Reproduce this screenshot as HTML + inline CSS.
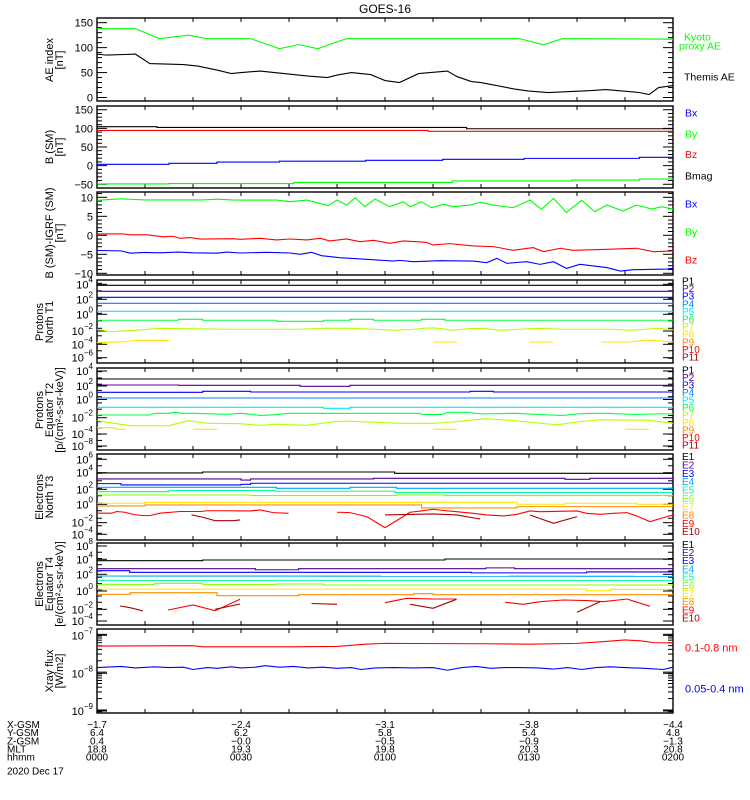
<!DOCTYPE html>
<html><head><meta charset="utf-8">
<style>
html,body{margin:0;padding:0;background:#fff;}
svg{display:block;font-family:"Liberation Sans",sans-serif;}
</style></head>
<body>
<svg id="chart" width="750" height="800" viewBox="0 0 750 800" xmlns="http://www.w3.org/2000/svg">
<text x="385" y="13" font-size="12" text-anchor="middle">GOES-16</text>
</svg>
<script>
// ---- data (time in minutes from 0000 UT, values) ----
const aeKyotoT=[0,8,13,19,23,30,32,38,42,46,52,88,93,97,120];
const aeKyotoV=[138,138,118,125,118,118,118,98,106,98,118,118,106,118,117];
const aeThemisT=[0,2,8,11,18,21,25,28,30,34,38,44,48,50,53,57,60,63,67,73,75,78,80,87,90,94,103,106,113,115,117,120];
const aeThemisV=[87,85,87,68,66,63,55,48,50,53,49,43,40,45,50,46,34,30,48,53,42,32,30,17,13,10,14,16,10,6,20,24];

const bmagT=[0,12.5,12.5,77,77,120];
const bmagV=[104.5,104.5,102.6,102.6,99,99];
const bzT=[0,69,69,120];
const bzV=[94.5,94.5,92,92];
const bxT=[0,15,15,25,25,38,38,56,56,72,72,89,89,113,113,120];
const bxV=[3.5,3.5,6.2,6.2,9.7,9.7,12,12,14.2,14.2,16.9,16.9,19.5,19.5,22.2,22.2];
const byT=[0,15,15,41,41,74,74,99,99,113,113,120];
const byV=[-49,-49,-48,-48,-45,-45,-41,-41,-38.6,-38.6,-36,-36];

const dByT=[0,5,10,22,25,28,29.8,37.4,40.2,43.7,45.8,48.2,50,52,53.8,55.8,57.9,61,63.8,65.2,67.6,69.7,72.1,74.2,77.7,79.8,82.6,86.7,90.2,92.6,95.1,97.8,101,103.7,106.2,109.6,112.4,115.6,117.6,120];
const dByV=[9.2,9.6,9.3,9.3,9.5,9.3,9.29,9.29,8.85,9.29,8.58,7.79,9.29,7.97,9.9,7.53,9.55,7.53,8.85,7.53,8.85,7.27,8.15,7.53,7.97,8.68,7.97,7.27,9.29,6.84,9.73,6.05,9.2,6.2,7.97,6.4,7.97,6.9,7.53,6.9];
const dBzT=[0,5.5,7,10.4,13.8,15.9,17.3,19.4,21.5,28.4,29.8,34,37.4,40.2,43.7,46.5,48.5,52,54.8,57.6,61,63.8,68.6,70,73.5,78.4,82.6,86.7,90.9,93,96.5,99.2,106.2,112.4,115.9,120];
const dBzV=[0.35,0.35,0.13,0.13,-0.4,-0.25,-0.8,-0.6,-1.0,-0.9,-1.05,-0.79,-1.23,-0.97,-1.23,-0.79,-1.49,-0.97,-1.67,-1.32,-2.1,-1.49,-1.84,-2.54,-2.19,-2.8,-2.98,-3.94,-3.24,-4.3,-3.41,-3.94,-3.68,-3.41,-4.3,-4.12];
const dBxT=[0,5,7,10,13,17,20,25,27,29.8,35.3,40.2,42.3,44.7,46.8,50.6,56.2,61.7,63.1,65.9,71.5,78.4,81.2,83.3,85.4,89.5,92.3,95.1,97.8,100.6,106.2,109,111.8,118.7,120];
const dBxV=[-4.0,-4.1,-4.7,-4.5,-4.6,-4.4,-4.6,-4.7,-4.4,-4.66,-4.48,-4.66,-5.0,-4.48,-5.36,-5.89,-6.33,-6.77,-6.6,-6.95,-6.68,-6.77,-7.2,-6.06,-7.38,-6.95,-7.65,-6.95,-8.7,-7.65,-8.5,-9.4,-9.05,-8.88,-8.7];

// protons north T1 (log10 flux)
const flatT=[0,120];
const pn1V=[3.73,3.73];
const pn2V=[2.93,2.93];
const pn3V=[2.13,2.13];
const pn4V=[1.33,1.33];
const pn5V=[0.27,0.27];
const pn6T=[0,17,17,22,22,37.4,37.4,47.2,47.2,52.7,52.7,57.6,57.6,67.6,67.6,72.5,72.5,120];
const pn6V=[-0.93,-0.93,-0.8,-0.8,-0.93,-0.93,-1.07,-1.07,-0.93,-0.93,-0.8,-0.8,-0.93,-0.93,-0.8,-0.8,-0.93,-0.93];
const pn7T=[0,3,8,13,28,42,47,53,58,62,66,68,70,72,74,76,78,81,84,88,92,97,107,111,114,117,120];
const pn7V=[-2.13,-2.45,-2.27,-2.0,-2.13,-2.13,-2.0,-2.0,-2.13,-2.27,-2.13,-2.0,-1.95,-2.05,-2.27,-2.13,-2.0,-2.05,-2.27,-2.13,-2.0,-2.13,-2.13,-2.27,-2.13,-2.0,-2.2];
const pn8T=[0,5.9,8.3,15,null,70,75,null,90,95,null,105,111,114,116,120];
const pn8V=[-3.92,-3.79,-3.6,-3.6,null,-3.83,-3.83,null,-3.83,-3.83,null,-3.83,-3.83,-3.6,-3.6,-3.83];

// protons equator T2
const pe1V=[2.83,2.83];
const pe2T=[0,17,17,42.3,42.3,52.7,52.7,120];
const pe2V=[1.87,1.87,1.82,1.82,1.66,1.66,1.82,1.82];
const pe3T=[0,22,22,32,32,77.7,77.7,82.6,82.6,120];
const pe3V=[0.7,0.7,0.86,0.86,0.75,0.75,0.86,0.86,0.75,0.75];
const pe4V=[-0.21,-0.21];
const pe5T=[0,47.2,47.2,52.7,52.7,120];
const pe5V=[-1.7,-1.7,-1.86,-1.86,-1.7,-1.7];
const pe6T=[0,11,12,15,16,18,20,27,30,32,34,37,40,42,67,68,72,73,77,80,87,92,97,100,104,106,112,117,120];
const pe6V=[-2.93,-2.93,-2.66,-2.66,-2.5,-2.66,-2.66,-2.82,-2.66,-2.8,-3.0,-2.9,-2.66,-2.66,-2.66,-2.85,-2.85,-2.5,-2.5,-2.75,-2.66,-2.85,-3.0,-2.75,-2.66,-2.66,-2.85,-2.75,-2.75];
const pe7T=[0,7,15,19,23,29.8,34,37.4,43.7,50,53,63,68,70,74,81,87,94,96,100,105,115,120];
const pe7V=[-3.84,-4.64,-4.64,-3.84,-4.26,-4.32,-4.58,-4.4,-4.58,-3.94,-3.94,-4.26,-4.26,-4.26,-4.05,-3.52,-3.84,-4.37,-4.48,-4.05,-3.68,-3.78,-4.26];
const pe8T=[0,4,4,6,null,20,25,null,70,75,null,110,115];
const pe8V=[-4.96,-4.96,-5.22,-5.22,null,-5.22,-5.22,null,-5.22,-5.22,null,-5.22,-5.22];

// electrons north T3
const en1T=[0,22,22,62,62,120];
const en1V=[4.05,4.05,4.17,4.17,4.0,4.0];
const en2T=[0,30,30,32,32,57.6,57.6,97.5,97.5,102.7,102.7,120];
const en2V=[3.24,3.24,3.1,3.1,3.24,3.24,3.33,3.33,3.2,3.2,3.33,3.33];
const en3T=[0,5,5,30,30,32,32,120];
const en3V=[2.62,2.62,2.44,2.44,2.53,2.53,2.67,2.67];
const en4T=[0,37.4,37.4,52.7,52.7,62.4,62.4,120];
const en4V=[2.13,2.13,2.0,2.0,2.13,2.13,2.0,2.0];
const en5T=[0,15,15,37,37,62,62,120];
const en5V=[1.55,1.55,1.7,1.7,1.6,1.6,1.45,1.45];
const en6T=[0,32,32,62.4,62.4,72.5,72.5,120];
const en6V=[1.1,1.1,1.02,1.02,1.1,1.1,1.02,1.02];
const en7T=[0,10,10,87.5,87.5,97.5,97.5,112.4,112.4,120];
const en7V=[0.0,0.0,0.13,0.13,-0.13,-0.13,0.0,0.0,-0.13,-0.13];
const en8T=[0,10,10,67.6,67.6,87.5,87.5,120];
const en8V=[-0.36,-0.36,-0.22,-0.22,-0.62,-0.62,-0.45,-0.45];
const en9T=[0,3,4.1,5.8,7.6,9.6,11,13.1,17.3,21.5,23,27,29.8,31.9,34,36.7,39.9,null,50,52.7,56.2,60,63.8,65.2,67.6,70,72.5,74.9,78.4,81.2,84.7,87.5,90.2,92.3,100,102,104.8,107.6,110.4,112.4,115.2,117.6,120];
const en9V=[-1.33,-1.33,-1.1,-1.2,-1.5,-1.65,-1.65,-1.33,-1.1,-1.1,-1.0,-1.0,-1.03,-1.03,-0.89,-1.25,-1.34,null,-1.2,-1.25,-1.78,-3.25,-1.78,-1.2,-1.03,-0.8,-0.98,-1.12,-1.34,-1.56,-1.69,-1.47,-1.03,-1.12,-1.03,-1.34,-1.47,-1.34,-1.25,-1.69,-2.45,-2.0,-1.56];
const en10T=[19.7,21.5,22.8,24.6,28.4,29.8,null,60,70,74.9,79.8,null,90.2,95.1,100];
const en10V=[-1.56,-1.78,-2.0,-2.32,-2.32,-2.22,null,-1.56,-1.43,-1.56,-2.1,null,-1.56,-2.67,-1.78];

// electrons equator T4
const ee1T=[0,22,22,72.5,72.5,120];
const ee1V=[5.65,5.65,5.76,5.76,5.92,5.92];
const ee2T=[0,33,33,42,42,81,81,87,87,120];
const ee2V=[4.37,4.37,4.2,4.2,4.37,4.37,4.5,4.5,4.37,4.37];
const ee3T=[0,6.8,6.8,78,78,102,102,120];
const ee3V=[4.05,4.05,3.79,3.79,3.7,3.7,3.85,3.85];
const ee4V=[3.2,3.15];
const ee5V=[2.5,2.5];
const ee6T=[0,12,12,22,22,37.4,37.4,47.2,47.2,120];
const ee6V=[1.87,1.87,2.03,2.03,1.87,1.87,1.92,1.92,1.76,1.76];
const ee7T=[0,102,102,107,107,120];
const ee7V=[1.1,1.1,0.86,0.86,1.07,1.07];
const ee8T=[0,7,7,25,25,42,42,66,66,70,70,120];
const ee8V=[0.27,0.27,0.53,0.53,0.05,0.05,0.21,0.21,0.37,0.37,0.21,0.21];
const ee9T=[14.8,20,24.6,29.8,null,60,64.5,70,74.9,null,85,88.8,92.3,97.2,102.7,105.5,110.4,115.2];
const ee9V=[-2.24,-1.44,-2.35,-0.53,null,-1.07,-0.37,-0.48,-0.48,null,-1.0,-1.33,-0.91,-0.64,-0.75,-0.91,-0.48,-1.65];
const ee10T=[4.8,6.9,9.6,null,24.6,29.8,null,44.7,50,null,65.2,70,74.9,null,100,104.8];
const ee10V=[-1.6,-1.87,-2.4,null,-2.13,-1.28,null,-1.2,-1.33,null,-1.33,-1.97,-0.53,null,-2.6,-0.91];

// xray flux (log10 W/m2)
const xlT=[0,20,22,30,40,50,56,60,80,90,100,105,110,113,116,120];
const xlV=[-7.31,-7.3,-7.33,-7.33,-7.33,-7.32,-7.26,-7.24,-7.25,-7.26,-7.24,-7.2,-7.15,-7.17,-7.22,-7.23];
const xsT=[0,5,8,12,15,18,20,23,25,28,30,33,35,38,41,44,47,50,53,55,58,62,66,70,73,76,79,82,85,88,92,95,98,101,104,107,110,114,118,120];
const xsV=[-7.88,-7.85,-7.89,-7.86,-7.88,-7.87,-7.93,-7.88,-7.9,-7.86,-7.89,-7.87,-7.83,-7.87,-7.85,-7.89,-7.87,-7.9,-7.88,-7.93,-7.89,-7.88,-7.89,-7.88,-7.95,-7.88,-7.85,-7.9,-7.88,-7.88,-7.89,-7.92,-7.88,-7.93,-7.88,-7.86,-7.88,-7.9,-7.93,-7.87];

// bottom ephemeris rows
const ephNames=["X-GSM","Y-GSM","Z-GSM","MLT","hhmm"];
const ephX=["-1.7","-2.4","-3.1","-3.8","-4.4"];
const ephY=["6.4","6.2","5.8","5.4","4.8"];
const ephZ=["0.4","-0.0","-0.5","-0.9","-1.3"];
const ephMLT=["18.8","19.3","19.8","20.3","20.8"];
const ephHHMM=["0000","0030","0100","0130","0200"];

// ---- layout ----
const NS="http://www.w3.org/2000/svg";
const svg=document.getElementById('chart');
const X0=97,X1=673,TMAX=120;
function xs(t){return X0+(t/TMAX)*(X1-X0);}
const panels=[
 {top:18,bot:101,min:-7,max:159.4,majors:[0,50,100,150],minor:10,lab:"ae"},
 {top:106,bot:188,min:-60,max:160,majors:[-50,0,50,100,150],minor:10,lab:"bsm"},
 {top:192,bot:275,min:-10.45,max:11.4,majors:[-10,-5,0,5,10],minor:1,lab:"dbsm"},
 {top:280,bot:363,min:-6.63,max:4.44,log:true,labs:[4,2,0,-2,-4,-6],labY:[283.3,298.3,313.3,330,343.3,356.7],lab:"pn"},
 {top:368,bot:450,min:-8.53,max:4.59,log:true,labs:[4,2,0,-2,-4,-8],labY:[370,385,398.5,416.7,433,445],lab:"pe"},
 {top:454,bot:540,min:-4.9,max:6.57,log:true,labs:[6,4,2,0,-2,-4],labY:[458.3,471.7,488.3,503.3,521.7,533.3],lab:"en"},
 {top:543,bot:625,min:-4.64,max:8.48,log:true,labs:[8,4,2,0,-2,-4],labY:[545,558.3,573.3,590,608.3,620],lab:"ee"},
 {top:629,bot:713,min:-9.08,max:-6.86,log:true,fine:true,labs:[-7,-8,-9],labY:[634.3,672.3,710],lab:"xr"}
];
function ys(p,v){return p.top+(p.max-v)/(p.max-p.min)*(p.bot-p.top);}
function mk(tag,attrs,parent){const e=document.createElementNS(NS,tag);for(const k in attrs)e.setAttribute(k,attrs[k]);(parent||svg).appendChild(e);return e;}
function line(x1,y1,x2,y2,g){return mk('line',{x1:x1,y1:y1,x2:x2,y2:y2,stroke:'#000','stroke-width':1},g);}

panels.forEach((p,i)=>{
  const g=mk('g',{});
  
  
  const fr=mk('rect',{x:X0,y:p.top,width:X1-X0,height:p.bot-p.top,fill:'none',stroke:'#000','stroke-width':1.4},g);
  
  
  for(let t=0;t<=TMAX;t+=10){const x=xs(t);line(x,p.top,x,p.top+4,g);line(x,p.bot,x,p.bot-4,g);}
  const tg=mk('g',{'font-size':11,'text-anchor':'end'},g);
  
  
  if(!p.log){
    const start=Math.ceil(p.min/p.minor)*p.minor;
    for(let v=start;v<=p.max;v+=p.minor){
      const y=ys(p,v);const maj=p.majors.some(m=>Math.abs(m-v)<1e-6);const L=maj?10:5;
      line(X0,y,X0+L,y,g);line(X1,y,X1-L,y,g);
    }
    p.majors.forEach(m=>{const t=mk('text',{x:93,y:ys(p,m)+4},tg);t.textContent=String(m).replace('-','\u2212');});
  }else{
    for(let d=Math.ceil(p.min);d<=p.max;d++){
      const y=ys(p,d);const L=p.fine?10:5;line(X0,y,X0+L,y,g);line(X1,y,X1-L,y,g);
      if(p.fine){for(let k=2;k<10;k++){const v=d-1+Math.log10(k);if(v>p.min&&v<p.max){const yy=ys(p,v);line(X0,yy,X0+5,yy,g);line(X1,yy,X1-5,yy,g);}}}
    }
    p.labY.forEach(y=>{line(X0,y+1,X0+10,y+1,g);line(X1,y+1,X1-10,y+1,g);});
    p.labs.forEach((e,j)=>{
      const t=mk('text',{x:93,y:p.labY[j]+5},tg);
      const a=mk('tspan',{},t);a.textContent='10';
      const b=mk('tspan',{'font-size':8,dy:-6},t);b.textContent=String(e).replace('-','\u2212');
    });
  }
});

const COLORS={blk:'#000',pur:'#55008c',blu:'#0000ff',lbl:'#0a7cff',cya:'#00e6ff',grn:'#00ff44',ygr:'#b4ff00',yel:'#ffe600',ora:'#ff8c00',red:'#ff0000',drd:'#aa0000',ebl:'#00aaff',tea:'#00ff9c',lim:'#80ff00',g0:'#00ff00'};
function series(pi,T,V,color,name){
  const p=panels[pi];let segs=[],cur=[];
  for(let k=0;k<T.length;k++){
    if(T[k]===null||V[k]===null){if(cur.length)segs.push(cur);cur=[];continue;}
    cur.push(xs(T[k]).toFixed(2)+','+ys(p,V[k]).toFixed(2));
  }
  if(cur.length)segs.push(cur);
  const d=segs.map(s=>'M'+s.join('L')).join('');
  const e=mk('path',{d:d,fill:'none',stroke:color,'stroke-width':1.1});
  
  
}
series(0,aeKyotoT,aeKyotoV,COLORS.g0,'kyoto-ae-line');
series(0,aeThemisT,aeThemisV,COLORS.blk,'themis-ae-line');
series(1,bmagT,bmagV,COLORS.blk,'bmag-line');
series(1,bzT,bzV,COLORS.red,'bz-line');
series(1,bxT,bxV,COLORS.blu,'bx-line');
series(1,byT,byV,COLORS.g0,'by-line');
series(2,dByT,dByV,COLORS.g0,'dby-line');
series(2,dBzT,dBzV,COLORS.red,'dbz-line');
series(2,dBxT,dBxV,COLORS.blu,'dbx-line');
series(3,flatT,pn1V,COLORS.blk,'pn-p1-line');
series(3,flatT,pn2V,COLORS.pur,'pn-p2-line');
series(3,flatT,pn3V,COLORS.blu,'pn-p3-line');
series(3,flatT,pn4V,COLORS.lbl,'pn-p4-line');
series(3,flatT,pn5V,COLORS.cya,'pn-p5-line');
series(3,pn6T,pn6V,COLORS.grn,'pn-p6-line');
series(3,pn7T,pn7V,COLORS.ygr,'pn-p7-line');
series(3,pn8T,pn8V,COLORS.yel,'pn-p8-line');
series(4,flatT,pe1V,COLORS.blk,'pe-p1-line');
series(4,pe2T,pe2V,COLORS.pur,'pe-p2-line');
series(4,pe3T,pe3V,COLORS.blu,'pe-p3-line');
series(4,flatT,pe4V,COLORS.lbl,'pe-p4-line');
series(4,pe5T,pe5V,COLORS.cya,'pe-p5-line');
series(4,pe6T,pe6V,COLORS.grn,'pe-p6-line');
series(4,pe7T,pe7V,COLORS.ygr,'pe-p7-line');
series(4,pe8T,pe8V,COLORS.yel,'pe-p8-line');
series(5,en1T,en1V,COLORS.blk,'en-e1-line');
series(5,en2T,en2V,COLORS.pur,'en-e2-line');
series(5,en3T,en3V,COLORS.blu,'en-e3-line');
series(5,en4T,en4V,COLORS.ebl,'en-e4-line');
series(5,en5T,en5V,COLORS.tea,'en-e5-line');
series(5,en6T,en6V,COLORS.lim,'en-e6-line');
series(5,en7T,en7V,COLORS.yel,'en-e7-line');
series(5,en8T,en8V,COLORS.ora,'en-e8-line');
series(5,en9T,en9V,COLORS.red,'en-e9-line');
series(5,en10T,en10V,COLORS.drd,'en-e10-line');
series(6,ee1T,ee1V,COLORS.blk,'ee-e1-line');
series(6,ee2T,ee2V,COLORS.pur,'ee-e2-line');
series(6,ee3T,ee3V,COLORS.blu,'ee-e3-line');
series(6,flatT,ee4V,COLORS.ebl,'ee-e4-line');
series(6,flatT,ee5V,COLORS.tea,'ee-e5-line');
series(6,ee6T,ee6V,COLORS.lim,'ee-e6-line');
series(6,ee7T,ee7V,COLORS.yel,'ee-e7-line');
series(6,ee8T,ee8V,COLORS.ora,'ee-e8-line');
series(6,ee9T,ee9V,COLORS.red,'ee-e9-line');
series(6,ee10T,ee10V,COLORS.drd,'ee-e10-line');
series(7,xlT,xlV,COLORS.red,'xray-long-line');
series(7,xsT,xsV,COLORS.blu,'xray-short-line');

// y-axis titles
function ytitle(lines,cy,name){
  const g=mk('g',{'font-size':11,'text-anchor':'middle'});
  
  
  lines.forEach(l=>{const t=mk('text',{transform:'translate('+l[1]+','+cy+') rotate(-90)'},g);t.textContent=l[0];});
}
ytitle([["AE index",53],["[nT]",63]],60,'y-title-ae');
ytitle([["B (SM)",53],["[nT]",63]],147,'y-title-bsm');
ytitle([["B (SM)-IGRF (SM)",53],["[nT]",63]],233,'y-title-dbsm');
ytitle([["Protons",43],["North T1",53]],322,'y-title-pn');
ytitle([["Protons",43],["Equator T2",53],["[p/(cm\u00b2-s-sr-keV)]",63]],410,'y-title-pe');
ytitle([["Electrons",43],["North T3",53]],497,'y-title-en');
ytitle([["Electrons",43],["Equator T4",53],["[e/(cm\u00b2-s-sr-keV)]",63]],584,'y-title-ee');
ytitle([["Xray flux",53],["[W/m2]",63]],671,'y-title-xray');

// legends
function legend(items,x,name,fs){
  const g=mk('g',{'font-size':fs||10});
  
  
  items.forEach(it=>{const t=mk('text',{x:it[3]||x,y:it[1]+3.5,fill:it[2]},g);t.textContent=it[0];});
}
legend([["Kyoto",37,COLORS.g0,684],["proxy AE",46,COLORS.g0,679],["Themis AE",77,'#000',684]],684,'legend-ae',10.5);
legend([["Bx",113,COLORS.blu],["By",134,COLORS.g0],["Bz",154.5,COLORS.red],["Bmag",176,'#000']],685,'legend-bsm',10.5);
legend([["Bx",204,COLORS.blu],["By",232,COLORS.g0],["Bz",260,COLORS.red]],685,'legend-dbsm',10.5);
const pCols=[COLORS.blk,COLORS.pur,COLORS.blu,COLORS.lbl,COLORS.cya,COLORS.grn,COLORS.ygr,COLORS.yel,COLORS.ora,COLORS.red,COLORS.drd];
const eCols=[COLORS.blk,COLORS.pur,COLORS.blu,COLORS.ebl,COLORS.tea,COLORS.lim,COLORS.yel,COLORS.ora,COLORS.red,COLORS.drd];
legend(pCols.map((c,i)=>["P"+(i+1),281+i*7.6,c]),682,'legend-pn');
legend(pCols.map((c,i)=>["P"+(i+1),370+i*7.5,c]),682,'legend-pe');
legend(eCols.map((c,i)=>["E"+(i+1),456.7+i*8.33,c]),682,'legend-en');
legend(eCols.map((c,i)=>["E"+(i+1),544.3+i*8.2,c]),682,'legend-ee');
legend([["0.1-0.8 nm",648,COLORS.red],["0.05-0.4 nm",689,COLORS.blu]],685,'legend-xray',11);

// ephemeris
const eg=mk('g',{'font-size':10});


const rows=[ephX,ephY,ephZ,ephMLT,ephHHMM];
const rowY=[727.8,736,744.3,752.6,760.4];
ephNames.forEach((n,i)=>{
  const t=mk('text',{x:7,y:rowY[i]},eg);t.textContent=n;
  rows[i].forEach((v,j)=>{const tt=mk('text',{x:xs(j*30),y:rowY[i],'text-anchor':'middle'},eg);tt.textContent=v.replace('-','\u2212');});
});
const dt=mk('text',{x:7,y:774.6},eg);dt.textContent="2020 Dec 17";
</script>
</body></html>
